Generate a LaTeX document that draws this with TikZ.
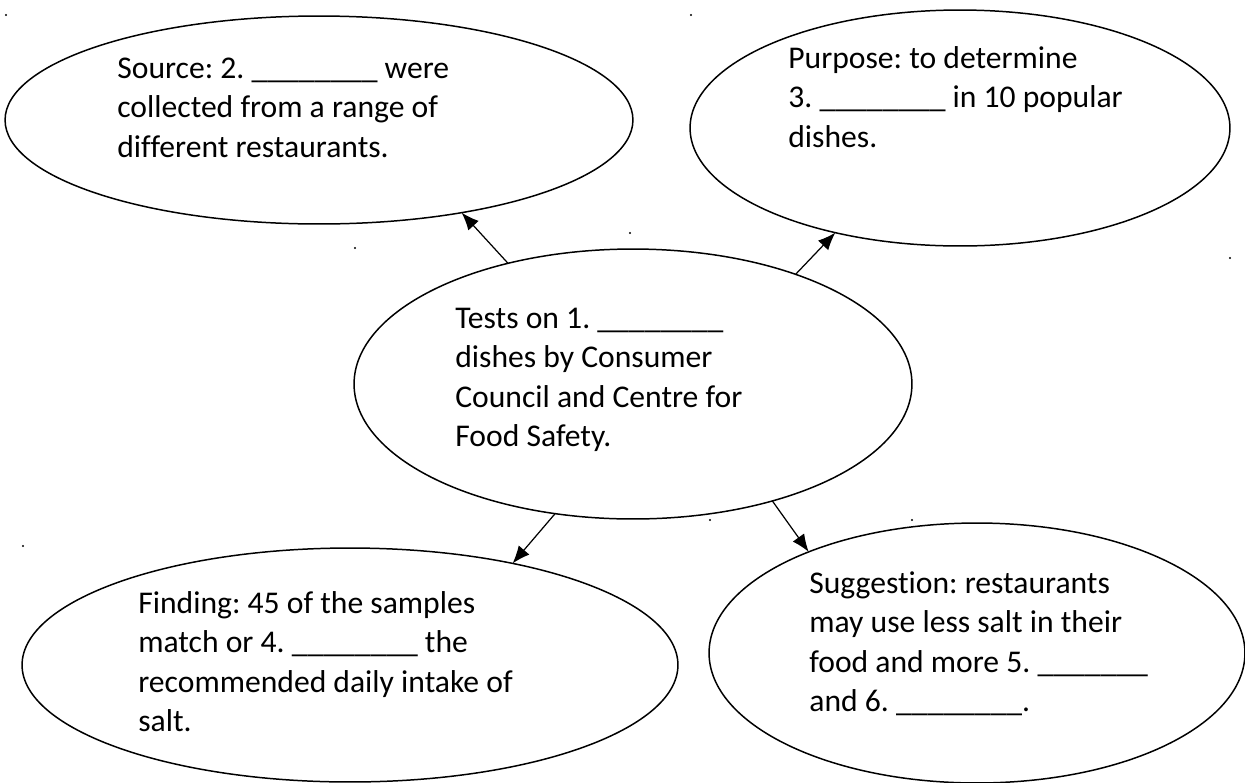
\documentclass[tikz,border=0pt]{standalone}
\usepackage{fontspec}
\setmainfont{Carlito}[Ligatures=NoCommon]
\usetikzlibrary{arrows.meta,shapes.geometric}
\newcommand{\gap}[1]{\foreach \i in {1,...,#1}{\_}}% blank to fill in
\frenchspacing

\begin{document}
\begin{tikzpicture}[x=0.02cm,y=-0.02cm,
    bubble/.style={draw,ellipse,line width=0.85pt,inner sep=0pt,outer sep=0pt},
    blurb/.style={anchor=north west,align=left,inner sep=0pt,
      font=\fontsize{18}{22.5}\selectfont},
    link/.style={line width=0.7pt,-{Latex[length=10pt,width=8pt]}}]
  \fill[white] (0,0) rectangle (1245,782);
  \useasboundingbox (0,0) rectangle (1245,782);
  % the five bubbles
  \node[bubble,minimum width=12.56cm,minimum height=4.16cm] (source) at (319,120) {};
  \node[bubble,minimum width=10.8cm,minimum height=4.72cm] (purpose) at (960,128) {};
  \node[bubble,minimum width=11.16cm,minimum height=5.4cm] (tests) at (633,384) {};
  \node[bubble,minimum width=13.12cm,minimum height=4.68cm] (finding) at (350,665) {};
  \node[bubble,minimum width=10.72cm,minimum height=5.2cm] (suggest) at (977,653) {};
  % texts in the bubbles
  \node[blurb] (sourcetext) at (117,50) {\strut Source: 2. \gap{8} were\\
    collected from a range of\\ different restaurants.};
  \node[blurb] (purposetext) at (788,40) {\strut Purpose: to determine\\
    3. \gap{8} in 10 popular\\ dishes.};
  \node[blurb] (teststext) at (455,300) {\strut Tests on 1. \gap{8}\\
    dishes by Consumer\\ Council and Centre for\\ Food Safety.};
  \node[blurb] (findingtext) at (138,585) {\strut Finding: 45 of the samples\\
    match or 4. \gap{8} the\\ recommended daily intake of\\ salt.};
  \node[blurb] (suggesttext) at (809,565) {\strut Suggestion: restaurants\\
    may use less salt in their\\ food and more 5. \gap{7}\\ and 6. \gap{8}.};
  % arrows out of the middle
  \draw[link] (tests.136) -- (source.-33);
  \draw[link] (tests.34.7) -- (purpose.-140.7);
  \draw[link] (tests.-121.8) -- (finding.32.4);
  \draw[link] (tests.-40.1) -- (suggest.149);
  % stray specks
  \foreach \p in {(6,15),(691,15),(355,248),(630,233),(1230,258),
                  (23,546),(710,520),(912,520)}
    \fill \p circle (0.6pt);
\end{tikzpicture}
\end{document}
